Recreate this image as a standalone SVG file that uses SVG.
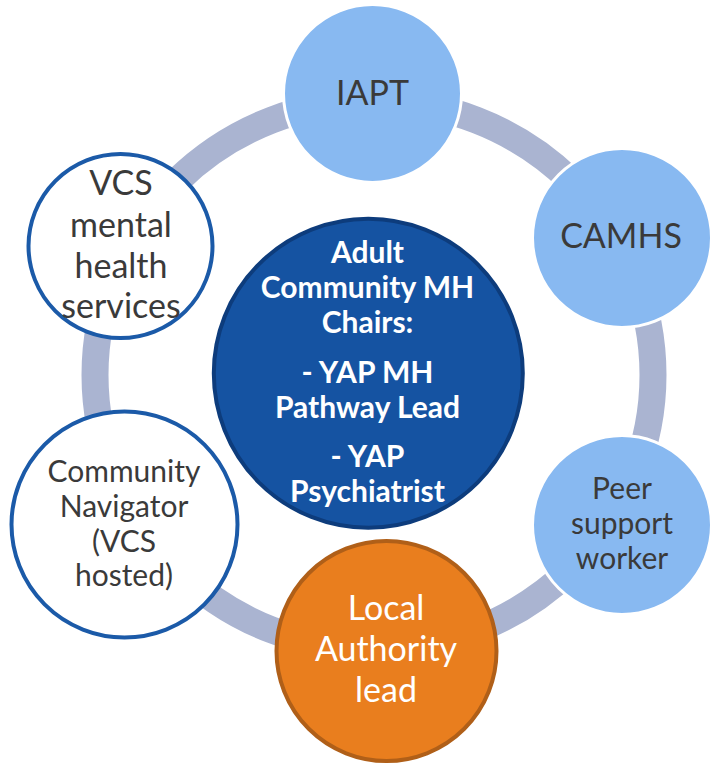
<svg xmlns="http://www.w3.org/2000/svg" width="721" height="764" viewBox="0 0 721 764">
  <style>
    .lbl { font-family: Lato, "Open Sans", "Liberation Sans", sans-serif; text-anchor: middle; fill: #3A3A3A; }
    .big { font-size: 34px; }
    .mid { font-size: 30px; }
    .light { fill: #88B9F1; stroke: #FFFFFF; stroke-width: 3; }
    .outline { fill: #FFFFFF; stroke: #1B5AA8; stroke-width: 4; }
    .white { fill: #FFFFFF; }
    .chair { font-family: Lato, "Open Sans", "Liberation Sans", sans-serif; font-weight: bold; font-size: 30px; text-anchor: middle; fill: #FFFFFF; }
  </style>

  <!-- connecting ring behind all nodes -->
  <g id="connectors">
    <ellipse cx="374" cy="375" rx="279" ry="274" fill="none" stroke="#AAB4D1" stroke-width="27"/>
  </g>

  <g id="iapt">
    <circle class="light" cx="372.5" cy="93.5" r="89"/>
    <text class="lbl big" x="372.5" y="105">IAPT</text>
  </g>

  <g id="camhs">
    <circle class="light" cx="622" cy="238" r="89.5"/>
    <text class="lbl big" x="621" y="248">CAMHS</text>
  </g>

  <g id="peer-support">
    <circle class="light" cx="622" cy="525" r="89.5"/>
    <text class="lbl mid" x="622" y="499">Peer</text>
    <text class="lbl mid" x="622" y="534">support</text>
    <text class="lbl mid" x="622" y="569">worker</text>
  </g>

  <g id="local-authority">
    <circle cx="386.5" cy="651" r="110" fill="#E97E1E" stroke="#B05F18" stroke-width="4"/>
    <text class="lbl big white" x="386" y="620">Local</text>
    <text class="lbl big white" x="386" y="661">Authority</text>
    <text class="lbl big white" x="386" y="702">lead</text>
  </g>

  <g id="community-navigator">
    <circle class="outline" cx="124.5" cy="524.5" r="113"/>
    <text class="lbl mid" x="124" y="482">Community</text>
    <text class="lbl mid" x="124" y="517">Navigator</text>
    <text class="lbl mid" x="124" y="552">(VCS</text>
    <text class="lbl mid" x="124" y="586">hosted)</text>
  </g>

  <g id="vcs-services">
    <circle class="outline" cx="120.5" cy="246" r="92"/>
    <text class="lbl big" x="121" y="195">VCS</text>
    <text class="lbl big" x="121" y="237">mental</text>
    <text class="lbl big" x="121" y="278">health</text>
    <text class="lbl big" x="121" y="318">services</text>
  </g>

  <g id="chairs">
    <circle cx="368.3" cy="373.3" r="154.5" fill="#1553A2" stroke="#0D3C7C" stroke-width="4"/>
    <text class="chair" x="367.5" y="263">Adult</text>
    <text class="chair" x="367.5" y="298">Community MH</text>
    <text class="chair" x="367.5" y="333">Chairs:</text>
    <text class="chair" x="367.5" y="383">- YAP MH</text>
    <text class="chair" x="367.5" y="418">Pathway Lead</text>
    <text class="chair" x="367.5" y="467">- YAP</text>
    <text class="chair" x="367.5" y="502">Psychiatrist</text>
  </g>
</svg>
